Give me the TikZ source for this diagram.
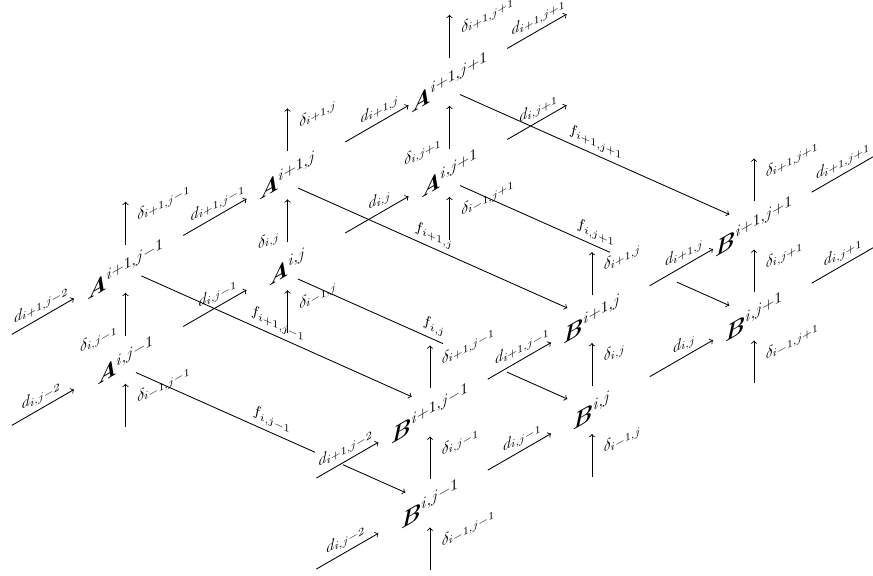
\documentclass[tikz,border=0pt]{standalone}
\usepackage{amsmath,bm}
\begin{document}
\begin{tikzpicture}[x=0.645pt, y=-0.645pt, line width=0.55pt,
        grid/.style={yslant=0.577, font=\Large},
        lbl/.style={yslant=0.577},
        flbl/.style={yslant=-0.445},
        vert/.style={->, shorten <=15.5pt, shorten >=15.5pt},
        hstep/.style={->, shorten <=43pt, shorten >=30.5pt},
        hin/.style={->, shorten <=36pt, shorten >=38.4pt},
        hout/.style={->, shorten <=43pt, shorten >=33.4pt},
        fstep/.style={->, shorten <=7.4pt, shorten >=17.4pt}]
    \useasboundingbox (0,0) rectangle (873,576);
    \clip (0,0) rectangle (873,576);

    % back layer: level i
    \node[grid] (A00) at (125.5,359.8) {$\bm{A}^{i,j-1}$};
    \node[grid] (A01) at (287.5,266.3) {$\bm{A}^{i,j}$};
    \node[grid] (A02) at (449.5,172.8) {$\bm{A}^{i,j+1}$};
    \node[grid] (B00) at (430,503.5) {$\bm{B}^{i,j-1}$};
    \node[grid] (B01) at (592,410) {$\bm{B}^{i,j}$};
    \node[grid] (B02) at (754,316.5) {$\bm{B}^{i,j+1}$};

    \coordinate (Ab0) at (125.5,450.8);
    \coordinate (Ab1) at (287.5,357.3);
    \coordinate (Ab2) at (449.5,263.8);
    \coordinate (Al0) at (-36.5,453.3);
    \coordinate (Ar0) at (611.5,79.3);
    \coordinate (Bb0) at (430,594.5);
    \coordinate (Bb1) at (592,501);
    \coordinate (Bb2) at (754,407.5);
    \coordinate (Bl0) at (268,597);
    \coordinate (Br0) at (916,223);

    \draw[vert] (Ab0) -- node[lbl, pos=.49, right=4pt] {$\delta_{i-1,j-1}$} (A00.center);
    \draw[vert] (Ab1) -- node[lbl, pos=.49, right=4pt] {$\delta_{i-1,j}$} (A01.center);
    \draw[vert] (Ab2) -- node[lbl, pos=.49, right=4pt] {$\delta_{i-1,j+1}$} (A02.center);
    \draw[vert] (Bb0) -- node[lbl, pos=.49, right=4pt] {$\delta_{i-1,j-1}$} (B00.center);
    \draw[vert] (Bb1) -- node[lbl, pos=.49, right=4pt] {$\delta_{i-1,j}$} (B01.center);
    \draw[vert] (Bb2) -- node[lbl, pos=.49, right=4pt] {$\delta_{i-1,j+1}$} (B02.center);

    \draw[hin] (Al0) -- node[lbl, pos=.48, above] {$d_{i,j-2}$} (A00.center);
    \draw[hstep] (A00.center) -- node[lbl, pos=.57, above] {$d_{i,j-1}$} (A01.center);
    \draw[hstep] (A01.center) -- node[lbl, pos=.57, above] {$d_{i,j}$} (A02.center);
    \draw[hout] (A02.center) -- node[lbl, pos=.55, above] {$d_{i,j+1}$} (Ar0);
    \draw[hin] (Bl0) -- node[lbl, pos=.48, above] {$d_{i,j-2}$} (B00.center);
    \draw[hstep] (B00.center) -- node[lbl, pos=.57, above] {$d_{i,j-1}$} (B01.center);
    \draw[hstep] (B01.center) -- node[lbl, pos=.57, above] {$d_{i,j}$} (B02.center);
    \draw[hout, shorten >=27pt] (B02.center) -- node[lbl, pos=.55, above] {$d_{i,j+1}$} (Br0);

    % hidden parts of the back lines are left out
    \draw[fstep, dash pattern=on 126.4pt off 19.7pt on 80pt] ([yshift=-5.2pt]A00.center) -- node[flbl, pos=.48, above] {$f_{i,j-1}$} (B00.center);
    \draw[fstep, dash pattern=on 102.4pt off 45.2pt on 80pt] ([yshift=-5.2pt]A01.center) -- node[flbl, pos=.48, above] {$f_{i,j}$} (B01.center);
    \draw[fstep, dash pattern=on 105.9pt off 47.3pt on 80pt] ([yshift=-5.2pt]A02.center) -- node[flbl, pos=.48, above] {$f_{i,j+1}$} (B02.center);

    % front layer: level i+1
    \node[grid] (A10) at (125.5,268.8) {$\bm{A}^{i+1,j-1}$};
    \node[grid] (A11) at (287.5,175.3) {$\bm{A}^{i+1,j}$};
    \node[grid] (A12) at (449.5,81.8) {$\bm{A}^{i+1,j+1}$};
    \node[grid] (B10) at (430,412.5) {$\bm{B}^{i+1,j-1}$};
    \node[grid] (B11) at (592,319) {$\bm{B}^{i+1,j}$};
    \node[grid] (B12) at (754,225.5) {$\bm{B}^{i+1,j+1}$};

    \coordinate (At0) at (125.5,177.8);
    \coordinate (At1) at (287.5,84.3);
    \coordinate (At2) at (449.5,-9.2);
    \coordinate (Al1) at (-36.5,362.3);
    \coordinate (Ar1) at (611.5,-11.7);
    \coordinate (Bt0) at (430,321.5);
    \coordinate (Bt1) at (592,228);
    \coordinate (Bt2) at (754,134.5);
    \coordinate (Bl1) at (268,506);
    \coordinate (Br1) at (916,132);

    \draw[vert] (A00.center) -- node[lbl, pos=.405, left=1.5pt] {$\delta_{i,j-1}$} (A10.center);
    \draw[vert] (A01.center) -- node[lbl, pos=.405, left=1.5pt] {$\delta_{i,j}$} (A11.center);
    \draw[vert] (A02.center) -- node[lbl, pos=.405, left=1.5pt] {$\delta_{i,j+1}$} (A12.center);
    \draw[vert] (B00.center) -- node[lbl, pos=.49, right=4pt] {$\delta_{i,j-1}$} (B10.center);
    \draw[vert] (B01.center) -- node[lbl, pos=.49, right=4pt] {$\delta_{i,j}$} (B11.center);
    \draw[vert] (B02.center) -- node[lbl, pos=.49, right=4pt] {$\delta_{i,j+1}$} (B12.center);

    \draw[vert] (A10.center) -- node[lbl, pos=.49, right=4pt] {$\delta_{i+1,j-1}$} (At0);
    \draw[vert] (A11.center) -- node[lbl, pos=.49, right=4pt] {$\delta_{i+1,j}$} (At1);
    \draw[vert] (A12.center) -- node[lbl, pos=.49, right=4pt] {$\delta_{i+1,j+1}$} (At2);
    \draw[vert] (B10.center) -- node[lbl, pos=.49, right=4pt] {$\delta_{i+1,j-1}$} (Bt0);
    \draw[vert] (B11.center) -- node[lbl, pos=.49, right=4pt] {$\delta_{i+1,j}$} (Bt1);
    \draw[vert] (B12.center) -- node[lbl, pos=.49, right=4pt] {$\delta_{i+1,j+1}$} (Bt2);

    \draw[hin] (Al1) -- node[lbl, pos=.48, above] {$d_{i+1,j-2}$} (A10.center);
    \draw[hstep] (A10.center) -- node[lbl, pos=.57, above] {$d_{i+1,j-1}$} (A11.center);
    \draw[hstep] (A11.center) -- node[lbl, pos=.57, above] {$d_{i+1,j}$} (A12.center);
    \draw[hout] (A12.center) -- node[lbl, pos=.55, above] {$d_{i+1,j+1}$} (Ar1);
    \draw[hin] (Bl1) -- node[lbl, pos=.48, above] {$d_{i+1,j-2}$} (B10.center);
    \draw[hstep] (B10.center) -- node[lbl, pos=.57, above] {$d_{i+1,j-1}$} (B11.center);
    \draw[hstep] (B11.center) -- node[lbl, pos=.57, above] {$d_{i+1,j}$} (B12.center);
    \draw[hout, shorten >=27pt] (B12.center) -- node[lbl, pos=.55, above] {$d_{i+1,j+1}$} (Br1);

    \draw[->, shorten <=11.2pt, shorten >=12.9pt] (A10.center) -- node[flbl, pos=.5, above] {$f_{i+1,j-1}$} ([yshift=4.9pt]B10.center);
    \draw[fstep] ([yshift=-5.2pt]A11.center) -- node[flbl, pos=.48, above] {$f_{i+1,j}$} (B11.center);
    \draw[fstep] ([yshift=-5.2pt]A12.center) -- node[flbl, pos=.48, above] {$f_{i+1,j+1}$} (B12.center);
\end{tikzpicture}
\end{document}
